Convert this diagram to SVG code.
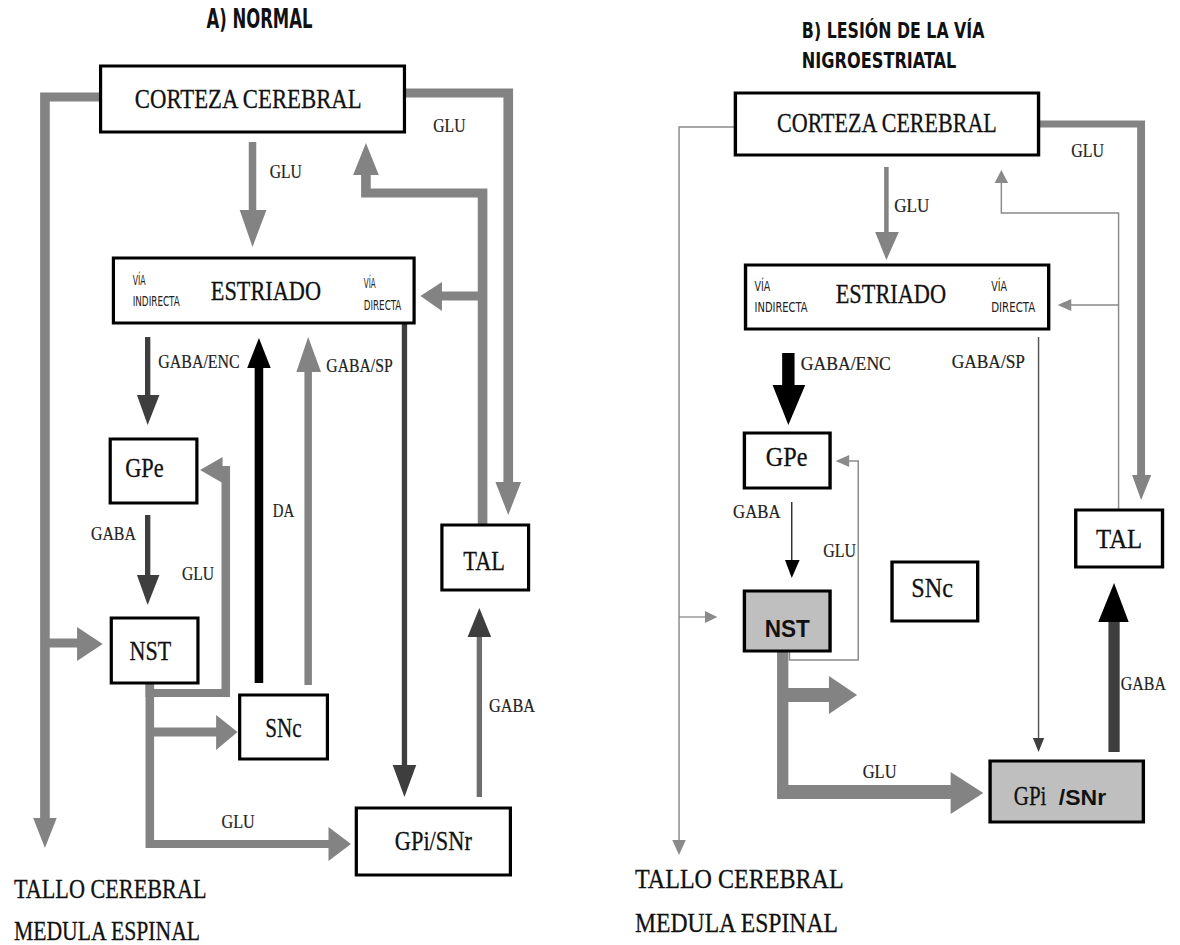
<svg xmlns="http://www.w3.org/2000/svg" width="1180" height="945" viewBox="0 0 1180 945">
<defs>
<style>
.bx{fill:#fff;stroke:#000;stroke-width:3}
.gb{fill:#bfbfbf;stroke:#000;stroke-width:3}
.big{font-family:"Liberation Serif","Times New Roman",serif;font-size:28px;fill:#111;stroke:#111;stroke-width:0.3}
.lb{font-family:"Liberation Serif","Times New Roman",serif;font-size:18px;fill:#222;stroke:#222;stroke-width:0.2}
.via{font-family:"Liberation Sans Narrow","DejaVu Sans Condensed","DejaVu Sans",sans-serif;font-size:14px;fill:#222}
.tt{font-family:"Liberation Sans Narrow","DejaVu Sans Condensed","DejaVu Sans",sans-serif;font-weight:bold;fill:#111}
.sb{font-family:"Liberation Sans",Arial,sans-serif;font-weight:bold;fill:#111}
.g{fill:none;stroke:#838383}
.d{fill:none;stroke:#3e3e3e}
.k{fill:none;stroke:#000}
.t{fill:none;stroke:#8a8a8a;stroke-width:1.3}
.gh{fill:#838383}
.dh{fill:#3e3e3e}
.kh{fill:#000}
.th{fill:#8a8a8a}
</style>
</defs>
<rect width="1180" height="945" fill="#fff"/>

<!-- Connectors -->
<g id="connectors">
 <g id="connectors-a" transform="scale(1.07 1)">
  <path class="g" stroke-width="9" d="M94,97 H42 V820"/>
  <polygon class="gh" points="31,818 53,818 42,848"/>
  <path class="g" stroke-width="9" d="M42,643 H75"/>
  <polygon class="gh" points="72,627 72,661 96,644"/>
  <path class="g" stroke-width="9" d="M378,93 H475 V484"/>
  <polygon class="gh" points="463,482 487,482 475,515"/>
  <path class="g" stroke-width="7" d="M236,142 V212"/>
  <polygon class="gh" points="224,210 249,210 236,247"/>
  <path class="g" stroke-width="9" d="M451,525 V193 H342 V175"/>
  <polygon class="gh" points="330,175 354,175 342,143"/>
  <path class="g" stroke-width="9" d="M451,296 H410"/>
  <polygon class="gh" points="413,282 413,311 393,296"/>
  <path class="d" stroke-width="5" d="M138,337 V397"/>
  <polygon class="dh" points="128,395 149,395 138,425"/>
  <path class="k" stroke-width="8" d="M242,683 V366"/>
  <polygon class="kh" points="231,368 253,368 242,338"/>
  <path class="g" stroke-width="7" d="M288,685 V370"/>
  <polygon class="gh" points="277,372 300,372 288,337"/>
  <path class="d" stroke-width="5" d="M378,323 V767"/>
  <polygon class="dh" points="367,765 389,765 378,797"/>
  <path class="d" stroke-width="5" d="M138,515 V577"/>
  <polygon class="dh" points="128,575 149,575 138,605"/>
  <path class="g" stroke-width="8" d="M140,683 V693 H211 V470 H205"/>
  <polygon class="gh" points="208,457 208,483 187,470"/>
  <path class="g" stroke-width="8" d="M140,683 V844 H310"/>
  <polygon class="gh" points="307,827 307,861 328,844"/>
  <path class="g" stroke-width="9" d="M140,732 H205"/>
  <polygon class="gh" points="202,715 202,750 222,732"/>
  <path stroke="#6e6e6e" fill="none" stroke-width="5" d="M448,797 V635"/>
  <polygon class="dh" points="437,637 459,637 448,608"/>
 </g>
 <g id="connectors-b" transform="matrix(1.127 0 0 1 -74.93 0)">
  <path class="t" d="M719,127 H669 V842"/>
  <polygon class="th" points="663,840 675,840 669,855"/>
  <path class="t" d="M669,617 H693"/>
  <polygon class="th" points="692,611 692,623 703,617"/>
  <path class="g" stroke-width="7" d="M988,124 H1079 V477"/>
  <polygon class="gh" points="1071,475 1088,475 1079,500"/>
  <path class="g" stroke-width="4" d="M853,167 V234"/>
  <polygon class="gh" points="843,232 864,232 853,260"/>
  <path class="t" d="M1059,510 V213 H955 V182"/>
  <polygon class="th" points="949,183 961,183 955,170"/>
  <path class="t" d="M1059,305 H1016"/>
  <polygon class="th" points="1017,299 1017,311 1005,305"/>
  <path stroke="#555" fill="none" stroke-width="1.3" d="M988,337 V740"/>
  <polygon class="dh" points="983,738 993,738 988,752"/>
  <path class="k" stroke-width="11" d="M766,353 V387"/>
  <polygon class="kh" points="752,385 781,385 766,425"/>
  <path stroke="#333" fill="none" stroke-width="1.3" d="M769,502 V562"/>
  <polygon class="kh" points="763,560 776,560 769,578"/>
  <path class="t" d="M767,651 V660 H828 V461 H818"/>
  <polygon class="th" points="820,455 820,467 808,461"/>
  <path class="g" stroke-width="10" d="M761,651 V792"/>
  <path class="g" stroke-width="14" d="M756,792 H912"/>
  <polygon class="gh" points="910,772 910,814 939,793"/>
  <path class="g" stroke-width="14" d="M761,695 H803"/>
  <polygon class="gh" points="802,676 802,714 827,695"/>
  <path class="d" stroke-width="10" d="M1055,752 V620"/>
  <polygon class="kh" points="1041,622 1068,622 1055,583"/>
 </g>
</g>

<!-- Panel A -->
<g id="panel-a" transform="scale(1.07 1)">
<g id="a-title"><text class="tt" x="193" y="28" font-size="27" textLength="99" lengthAdjust="spacingAndGlyphs">A) NORMAL</text></g>
<g id="a-corteza"><rect class="bx" x="94" y="66" width="284" height="66"/><text class="big" x="126" y="108" textLength="212" lengthAdjust="spacingAndGlyphs">CORTEZA CEREBRAL</text></g>
<g id="a-estriado"><rect class="bx" x="106" y="258" width="281" height="65"/>
  <text class="big" x="197" y="300" textLength="103" lengthAdjust="spacingAndGlyphs">ESTRIADO</text>
  <text class="via" x="124" y="285" textLength="12" lengthAdjust="spacingAndGlyphs">VÍA</text>
  <text class="via" x="124" y="306" textLength="44" lengthAdjust="spacingAndGlyphs">INDIRECTA</text>
  <text class="via" x="340" y="288" textLength="11" lengthAdjust="spacingAndGlyphs">VÍA</text>
  <text class="via" x="340" y="310" textLength="35" lengthAdjust="spacingAndGlyphs">DIRECTA</text></g>
<g id="a-gpe"><rect class="bx" x="103" y="439" width="81" height="64"/><text class="big" x="117" y="477" textLength="36" lengthAdjust="spacingAndGlyphs">GPe</text></g>
<g id="a-nst"><rect class="bx" x="104" y="618" width="81" height="65"/><text class="big" x="121" y="660" textLength="39" lengthAdjust="spacingAndGlyphs">NST</text></g>
<g id="a-snc"><rect class="bx" x="224" y="695" width="82" height="64"/><text class="big" x="248" y="737" textLength="34" lengthAdjust="spacingAndGlyphs">SNc</text></g>
<g id="a-tal"><rect class="bx" x="413" y="525" width="81" height="65"/><text class="big" x="433" y="570" textLength="39" lengthAdjust="spacingAndGlyphs">TAL</text></g>
<g id="a-gpi"><rect class="bx" x="333" y="808" width="144" height="67"/><text class="big" x="369" y="850" textLength="72" lengthAdjust="spacingAndGlyphs">GPi/SNr</text></g>
<g id="a-tallo"><text class="big" font-size="26" x="13" y="898" textLength="180" lengthAdjust="spacingAndGlyphs">TALLO CEREBRAL</text><text class="big" font-size="26" x="13" y="940" textLength="174" lengthAdjust="spacingAndGlyphs">MEDULA ESPINAL</text></g>
<g id="a-labels">
  <text class="lb" x="405" y="132" textLength="30" lengthAdjust="spacingAndGlyphs">GLU</text>
  <text class="lb" x="252" y="178" textLength="30" lengthAdjust="spacingAndGlyphs">GLU</text>
  <text class="lb" x="148" y="368" textLength="76" lengthAdjust="spacingAndGlyphs">GABA/ENC</text>
  <text class="lb" x="305" y="372" textLength="62" lengthAdjust="spacingAndGlyphs">GABA/SP</text>
  <text class="lb" x="255" y="517" textLength="20" lengthAdjust="spacingAndGlyphs">DA</text>
  <text class="lb" x="85" y="540" textLength="42" lengthAdjust="spacingAndGlyphs">GABA</text>
  <text class="lb" x="170" y="580" textLength="30" lengthAdjust="spacingAndGlyphs">GLU</text>
  <text class="lb" x="457" y="712" textLength="43" lengthAdjust="spacingAndGlyphs">GABA</text>
  <text class="lb" x="207" y="828" textLength="31" lengthAdjust="spacingAndGlyphs">GLU</text>
</g>
</g>

<!-- Panel B -->
<g id="panel-b" transform="matrix(1.127 0 0 1 -74.93 0)">
<g id="b-title"><text class="tt" x="778" y="38" font-size="21" textLength="162" lengthAdjust="spacingAndGlyphs">B) LESIÓN DE LA VÍA</text>
<text class="tt" x="778" y="68" font-size="21" textLength="137" lengthAdjust="spacingAndGlyphs">NIGROESTRIATAL</text></g>
<g id="b-corteza"><rect class="bx" x="719" y="93" width="269" height="62"/><text class="big" font-size="26" x="756" y="132" textLength="195" lengthAdjust="spacingAndGlyphs">CORTEZA CEREBRAL</text></g>
<g id="b-estriado"><rect class="bx" x="728" y="265" width="269" height="64"/>
  <text class="big" font-size="26" x="808" y="303" textLength="98" lengthAdjust="spacingAndGlyphs">ESTRIADO</text>
  <text class="via" x="736" y="291" textLength="14" lengthAdjust="spacingAndGlyphs">VÍA</text>
  <text class="via" x="736" y="312" textLength="47" lengthAdjust="spacingAndGlyphs">INDIRECTA</text>
  <text class="via" x="946" y="291" textLength="14" lengthAdjust="spacingAndGlyphs">VÍA</text>
  <text class="via" x="946" y="312" textLength="39" lengthAdjust="spacingAndGlyphs">DIRECTA</text></g>
<g id="b-gpe"><rect class="bx" x="727" y="433" width="76" height="55"/><text class="big" font-size="26" x="746" y="466" textLength="37" lengthAdjust="spacingAndGlyphs">GPe</text></g>
<g id="b-nst"><rect class="gb" x="727" y="591" width="76" height="60"/><text class="sb" x="745" y="637" font-size="24" textLength="40" lengthAdjust="spacingAndGlyphs">NST</text></g>
<g id="b-snc"><rect class="bx" x="858" y="562" width="76" height="59"/><text class="big" font-size="26" x="875" y="597" textLength="37" lengthAdjust="spacingAndGlyphs">SNc</text></g>
<g id="b-tal"><rect class="bx" x="1021" y="510" width="77" height="57"/><text class="big" font-size="26" x="1039" y="548" textLength="41" lengthAdjust="spacingAndGlyphs">TAL</text></g>
<g id="b-gpi"><rect class="gb" x="945" y="761" width="136" height="61"/><text class="big" font-size="24" x="966" y="805" textLength="29" lengthAdjust="spacingAndGlyphs">GPi</text><text class="sb" x="1006" y="805" font-size="22" textLength="42" lengthAdjust="spacingAndGlyphs">/SNr</text></g>
<g id="b-tallo"><text class="big" font-size="26" x="630" y="888" textLength="185" lengthAdjust="spacingAndGlyphs">TALLO CEREBRAL</text><text class="big" font-size="26" x="630" y="932" textLength="180" lengthAdjust="spacingAndGlyphs">MEDULA ESPINAL</text></g>
<g id="b-labels">
  <text class="lb" x="1017" y="157" textLength="29" lengthAdjust="spacingAndGlyphs">GLU</text>
  <text class="lb" x="860" y="212" textLength="31" lengthAdjust="spacingAndGlyphs">GLU</text>
  <text class="lb" x="777" y="370" textLength="80" lengthAdjust="spacingAndGlyphs">GABA/ENC</text>
  <text class="lb" x="911" y="368" textLength="65" lengthAdjust="spacingAndGlyphs">GABA/SP</text>
  <text class="lb" x="717" y="518" textLength="42" lengthAdjust="spacingAndGlyphs">GABA</text>
  <text class="lb" x="797" y="557" textLength="29" lengthAdjust="spacingAndGlyphs">GLU</text>
  <text class="lb" x="1061" y="690" font-size="16" textLength="40" lengthAdjust="spacingAndGlyphs">GABA</text>
  <text class="lb" x="832" y="778" textLength="30" lengthAdjust="spacingAndGlyphs">GLU</text>
</g>
</g>
</svg>
